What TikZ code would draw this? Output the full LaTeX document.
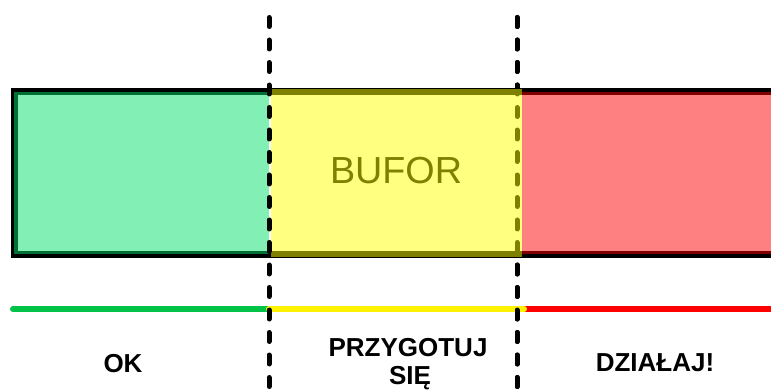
\documentclass[tikz,border=0pt]{standalone}
\usepackage{fontspec}
\setmainfont{Liberation Sans}
\definecolor{zgreen}{RGB}{5,225,105}
\definecolor{zyellow}{RGB}{255,255,1}
\definecolor{zred}{RGB}{255,1,1}
\definecolor{bgreen}{RGB}{0,194,70}
\definecolor{olivetext}{RGB}{128,128,0}
\begin{document}
\begin{tikzpicture}[x=1pt,y=-1pt,
  frame/.style={draw=black,line width=7pt},
  zone/.style={fill opacity=0.5},
  sepline/.style={line width=5pt,line cap=round,dash pattern=on 9pt off 13.5pt},
  bar/.style={line width=6pt,line cap=round},
  lbl/.style={font=\fontsize{26}{31}\selectfont\bfseries,anchor=base,inner sep=0pt}]
\useasboundingbox (0,0) rectangle (771,390);
\clip (0,0) rectangle (771,390);
% frame
\draw[frame] (14,92) rectangle (800,254);
% right separator under the overlay
\coordinate (rtop) at (517,17.5);
\coordinate (rbot) at (517,400);
\coordinate (ltop) at (269,17.5);
\coordinate (lbot) at (269,400);
\draw[sepline] (rtop) -- (rbot);
% zones
\fill[zone,zgreen] (14,92) rectangle (269,254);
\fill[zone,zyellow] (271,89) rectangle (522,257);
\fill[zone,zred] (522,92) rectangle (800,254);
% text in box
\node[font=\fontsize{37.7}{45}\selectfont,text=olivetext,anchor=base,inner sep=0pt] (bufor) at (396,184) {BUFOR};
% bars
\draw[bar,bgreen] (13,309) -- (269,309);
\draw[bar,red] (524,309) -- (790,309);
\draw[bar,yellow] (269,309) -- (524,309);
% separators on top
\draw[sepline] (ltop) -- (lbot);
\begin{scope}
  \clip (0,0) rectangle (771,86) (0,260) rectangle (771,390);
  \draw[sepline] (rtop) -- (rbot);
\end{scope}
% labels
\node[lbl] (ok) at (123,372) {OK};
\node[lbl] (prep1) at (408,356) {PRZYGOTUJ};
\node[lbl] (prep2) at (410,384) {SIĘ};
\node[lbl] (act) at (655,371) {DZIAŁAJ!};
\end{tikzpicture}
\end{document}
